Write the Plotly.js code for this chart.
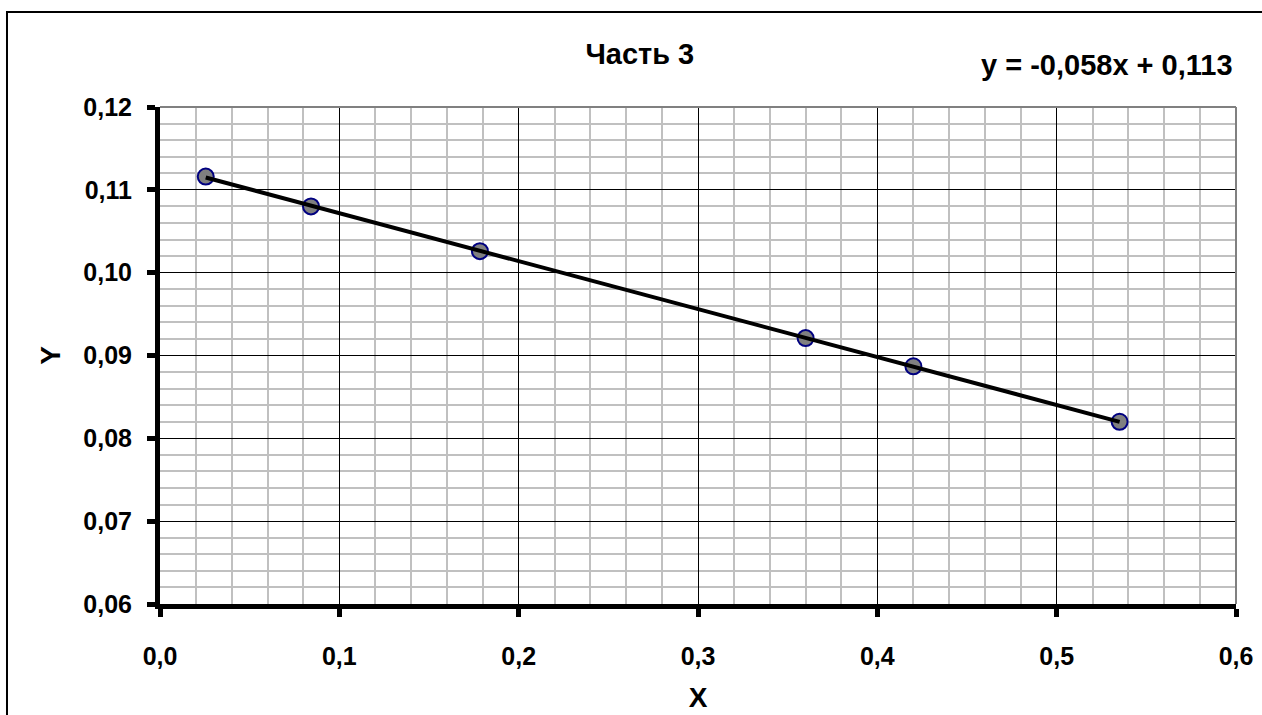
<!DOCTYPE html>
<html>
<head>
<meta charset="utf-8">
<script src="https://cdn.plot.ly/plotly-3.0.1.min.js"></script>
<style>
html,body{margin:0;padding:0;background:#fff;}
#chart{width:1262px;height:715px;}
</style>
</head>
<body>
<div id="chart"></div>
<script>
// Data
const xValues = [0.0255, 0.0842, 0.1784, 0.360, 0.4201, 0.5351];
const yValues = [0.1116, 0.1080, 0.1026, 0.0921, 0.0887, 0.0820];
const chartTitle = "Часть 3";
const equationText = "y = -0,058x + 0,113";
const xTitle = "X";
const yTitle = "Y";

// Linear least-squares trend line
const n = xValues.length;
const mx = xValues.reduce((a,b)=>a+b,0)/n;
const my = yValues.reduce((a,b)=>a+b,0)/n;
let sxy=0, sxx=0;
for(let i=0;i<n;i++){sxy+=(xValues[i]-mx)*(yValues[i]-my);sxx+=(xValues[i]-mx)**2;}
const slope = sxy/sxx, intercept = my - slope*mx;
const xMin = Math.min(...xValues), xMax = Math.max(...xValues);
const trendX = [xMin, xMax];
const trendY = trendX.map(x=>slope*x+intercept);

const FONT = "Liberation Sans, Arial, sans-serif";
const tickFont = {family: FONT, size: 25, color: "#000", weight: "bold"};

const traces = [
  {x: xValues, y: yValues, type: "scatter", mode: "markers",
   marker: {size: 16, color: "#808080", line: {color: "#000080", width: 2}},
   showlegend: false, hoverinfo: "x+y"},
  {x: trendX, y: trendY, type: "scatter", mode: "lines",
   line: {color: "#000", width: 4}, showlegend: false, hoverinfo: "skip"}
];

const layout = {
  width: 1262, height: 715,
  margin: {l: 160, r: 26, t: 107, b: 111},
  paper_bgcolor: "#fff", plot_bgcolor: "#fff",
  font: {family: FONT, color: "#000"},
  title: {text: "<b>" + chartTitle + "</b>", font: {family: FONT, size: 29, color: "#000"},
          x: 0.507, xanchor: "center", y: 0.925, yanchor: "middle"},
  xaxis: {
    range: [0, 0.6], dtick: 0.1, tick0: 0, tickformat: ".1f",
    showgrid: true, gridcolor: "#000", gridwidth: 1,
    minor: {dtick: 0.02, showgrid: true, gridcolor: "#c0c0c0", gridwidth: 2, ticks: ""},
    showline: true, linecolor: "#000", linewidth: 5,
    ticks: "outside", ticklen: 8, tickwidth: 5, tickcolor: "#000",
    tickfont: tickFont, ticklabelstandoff: 18,
    zeroline: false,
    title: {text: "<b>" + xTitle + "</b>", font: {family: FONT, size: 28, color: "#000"}, standoff: 20}
  },
  yaxis: {
    range: [0.06, 0.12], dtick: 0.01, tick0: 0.06, tickformat: ".2f",
    showgrid: true, gridcolor: "#000", gridwidth: 1,
    minor: {dtick: 0.002, showgrid: true, gridcolor: "#c0c0c0", gridwidth: 2, ticks: ""},
    showline: true, linecolor: "#000", linewidth: 5,
    ticks: "outside", ticklen: 8, tickwidth: 5, tickcolor: "#000",
    tickfont: tickFont, ticklabelstandoff: 10,
    zeroline: false,
    title: {text: "<b>" + yTitle + "</b>", font: {family: FONT, size: 28, color: "#000"}, standoff: 16}
  },
  separators: ",.",
  shapes: [
    {type: "line", xref: "paper", yref: "paper", x0: 0, x1: 1, y0: 1, y1: 1,
     line: {color: "#808080", width: 2}, layer: "above"},
    {type: "line", xref: "paper", yref: "paper", x0: 1, x1: 1, y0: 0, y1: 1,
     line: {color: "#808080", width: 2}, layer: "above"},
    {type: "rect", xref: "paper", yref: "paper", x0: -0.1422, x1: 1.2, y0: -0.4, y1: 1.1911,
     line: {color: "#000", width: 2}, layer: "above"}
  ],
  annotations: [
    {text: "<b>" + equationText + "</b>", xref: "paper", yref: "paper",
     x: 0.9995, y: 1.0845, xanchor: "right", yanchor: "middle", showarrow: false,
     font: {family: FONT, size: 29, color: "#000"}}
  ]
};

Plotly.newPlot("chart", traces, layout, {displayModeBar: false, staticPlot: true});
</script>
</body>
</html>
